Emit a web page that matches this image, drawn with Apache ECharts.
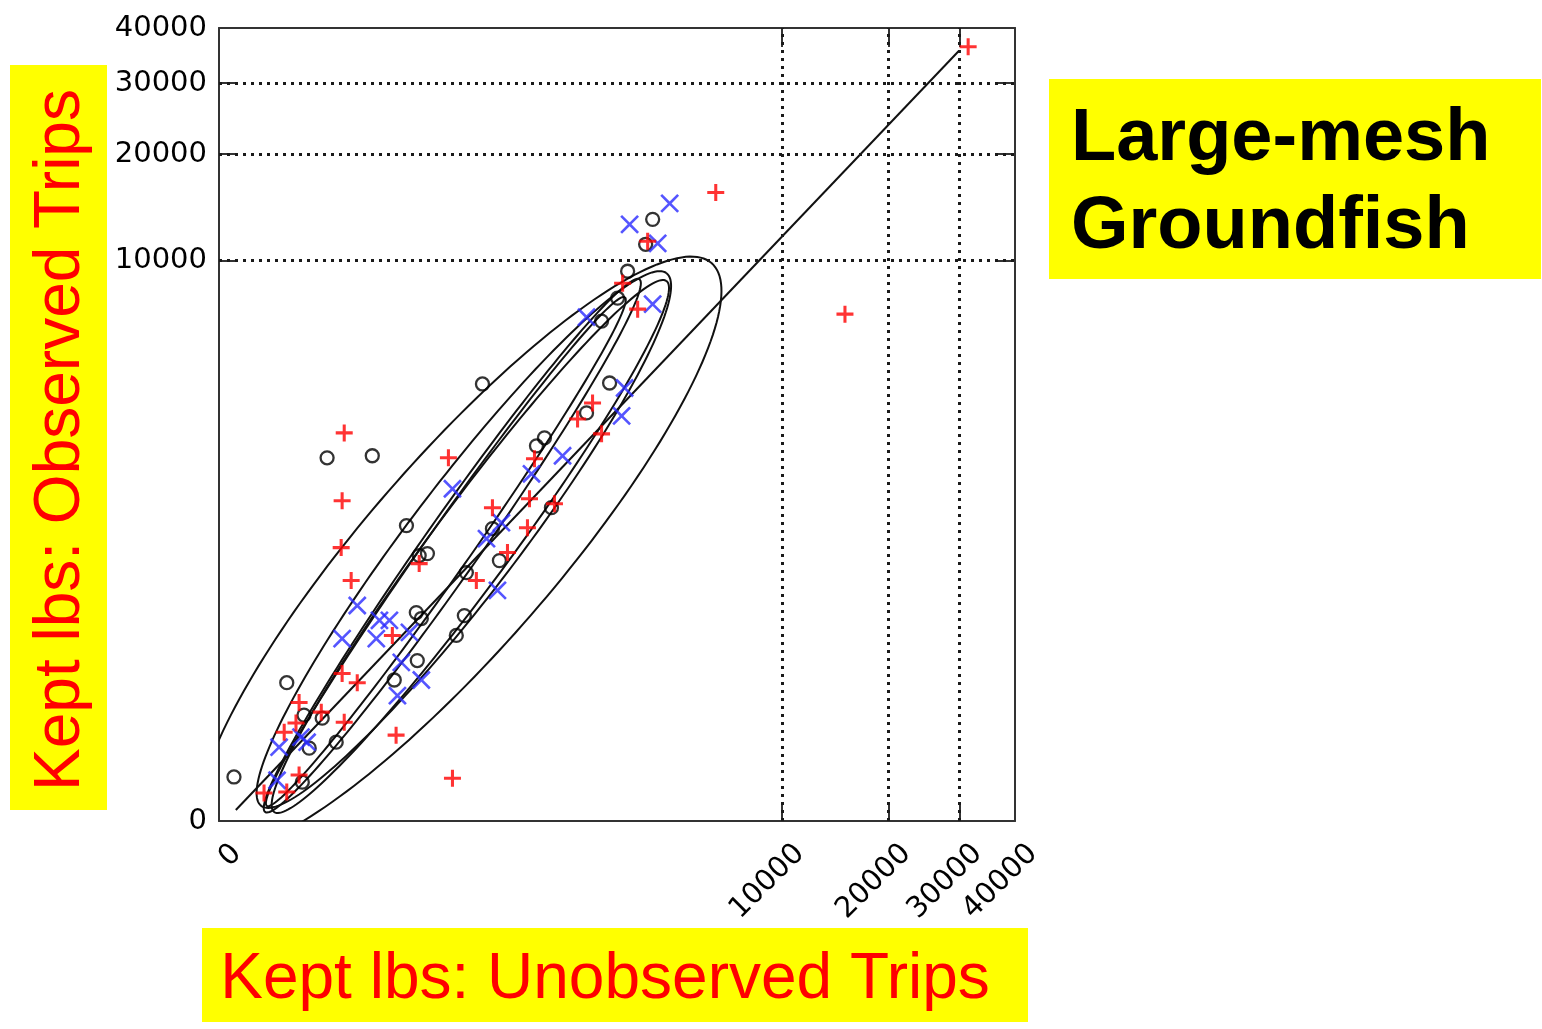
<!DOCTYPE html>
<html><head><meta charset="utf-8">
<script src="https://cdn.jsdelivr.net/npm/echarts@6/dist/echarts.min.js"></script>
<style>html,body{margin:0;padding:0;background:#fff}#c{width:1542px;height:1029px}</style>
</head><body><div id="c"></div>
<script>
// Axis tick labels (lbs) and dotted grid positions (lbs)
const tickValues = [0, 10000, 20000, 30000, 40000];
const gridValues = [10000, 20000, 30000];

// Points: [kept lbs on unobserved trips, kept lbs on observed trips]
const circles = [
  [0.005,0.38],[2.1,37],[5.2,12.7],[11.3,11.3],[6.6,2.85],[18.8,3.9],[4.8,0.23],
  [13.6,1760],[55,1800],[123,770],[160,502],[188,517],[94,40],[154,67],[151,191],
  [167,170],[316,120],[361,180],[373,385],[557,739],[616,465],[480,3690],[1012,2003],
  [1118,2180],[1217,975],[1818,2806],[2319,3723],[2134,6316],[2515,7558],[2778,9239],
  [3301,11190],[3524,13253]
];
const crosses = [
  [1.13,0.28],[1.3,3.0],[4.5,5.0],[6.0,3.9],[22.9,112],[36.4,218],[61,112],[66,164],
  [84,164],[131,128],[110,64],[167,40],[101,25],[296,1232],[510,643],[634,801],[599,286],
  [950,1470],[1388,1800],[1818,6520],[2618,2724],[2697,3556],[3524,7217],[3690,11262],
  [2832,12818],[4110,14716]
];
const pluses = [
  [0.41,0.062],[2.1,0.071],[4.1,0.45],[1.8,6.3],[3.5,9.3],[4.1,20],[10.9,14.2],[24.5,9.6],
  [22.9,48],[36.4,37],[30.4,338],[22.2,565],[22.9,1065],[24.5,2295],[90,120],[98,5.5],
  [160,444],[276,1760],[296,0.34],[437,338],[557,975],[690,525],[902,749],[926,1091],
  [987,1740],[1262,1025],[1647,2644],[1940,3090],[2134,2272],[2644,8462],[3061,6943],
  [3364,11422],[6067,15791],[15297,6676],[31383,36351]
];
// Fitted line end points (lbs)
const fitLine = [[0.008,0.0015],[29800,35500]];
// Confidence ellipses in fourth-root axis units: [x1, y1, x2, y2, halfWidth] (major-axis ends)
const ellipses = [
  [-0.20,-0.40, 8.75,9.95, 1.68],
  [0.75,0.27, 7.95,9.77, 0.97],
  [0.82,0.16, 7.47,9.66, 0.50],
  [0.98,0.16, 7.95,9.63, 0.70],
  [0.85,0.27, 7.21,9.34, 0.40]
];

const f = v => Math.pow(v, 0.25);          // fourth-root axis scale
const TMAX = f(40000);
const tr = arr => arr.map(p => [f(p[0]), f(p[1])]);
const fmt = v => String(Math.round(Math.pow(v, 4) / 100) * 100);
const PLUS = 'path://M41,0H59V41H100V59H59V100H41V59H0V41H41Z';
const XMARK = 'path://M44.5,0H55.5V44.5H100V55.5H55.5V100H44.5V55.5H0V44.5H44.5Z';

const labelFont = {fontFamily:'DejaVu Sans', fontSize:29, color:'#000'};
const tickStyle = {show:true, inside:true, length:19, customValues:gridValues.map(f), lineStyle:{color:'#333', width:2}};
const lineStyleAx = {show:true, onZero:false, lineStyle:{color:'#333', width:2}};
const chart = echarts.init(document.getElementById('c'), null, {renderer:'canvas'});
chart.setOption({
  animation:false,
  backgroundColor:'#fff',
  grid:{left:219, top:28, width:796, height:793, containLabel:false},
  xAxis:[
    {type:'value', min:0, max:TMAX, position:'bottom', axisLine:lineStyleAx, axisTick:tickStyle,
     axisLabel:Object.assign({customValues:tickValues.map(f), formatter:fmt, rotate:45, margin:10,
       align:'right', verticalAlign:'top', padding:[11,0,0,0]}, labelFont),
     splitLine:{show:false}},
    {type:'value', min:0, max:TMAX, position:'top', axisLine:lineStyleAx, axisTick:tickStyle,
     axisLabel:{show:false}, splitLine:{show:false}}
  ],
  yAxis:[
    {type:'value', min:0, max:TMAX, position:'left', axisLine:lineStyleAx, axisTick:tickStyle,
     axisLabel:Object.assign({customValues:tickValues.map(f), formatter:fmt, margin:12}, labelFont),
     splitLine:{show:false}},
    {type:'value', min:0, max:TMAX, position:'right', axisLine:lineStyleAx, axisTick:tickStyle,
     axisLabel:{show:false}, splitLine:{show:false}}
  ],
  series:[
    {type:'custom', name:'ellipses', clip:true, z:2, silent:true,
     data:ellipses,
     renderItem:function(params, api){
       const x1=api.value(0), y1=api.value(1), x2=api.value(2), y2=api.value(3), b=api.value(4);
       const cx=(x1+x2)/2, cy=(y1+y2)/2, a=Math.hypot(x2-x1,y2-y1)/2, ang=Math.atan2(y2-y1,x2-x1);
       const pts=[];
       for(let i=0;i<=200;i++){
         const th=i/200*Math.PI*2, u=a*Math.cos(th), v=b*Math.sin(th);
         pts.push(api.coord([cx+u*Math.cos(ang)-v*Math.sin(ang), cy+u*Math.sin(ang)+v*Math.cos(ang)]));
       }
       return {type:'polyline', shape:{points:pts}, style:{stroke:'#111', lineWidth:2, fill:null}};
     }},
    {type:'line', name:'fit', data:tr(fitLine), symbol:'none', z:3, silent:true,
     lineStyle:{color:'#111', width:2},
     markLine:{silent:true, symbol:'none', label:{show:false},
       lineStyle:{type:[3,5], width:3, color:'#1a1a1a'},
       data:gridValues.map(v=>({xAxis:f(v)})).concat(gridValues.map(v=>({yAxis:f(v)})))}},
    {type:'scatter', name:'o', data:tr(circles), symbol:'circle', symbolSize:13, z:5,
     itemStyle:{color:'rgba(0,0,0,0)', borderColor:'#000', borderWidth:2.3}},
    {type:'scatter', name:'x', data:tr(crosses), symbol:XMARK, symbolSize:24, symbolRotate:45, z:5,
     itemStyle:{color:'#2b2bff'}},
    {type:'scatter', name:'+', data:tr(pluses), symbol:PLUS, symbolSize:17, z:6,
     itemStyle:{color:'#ff0000'}}
  ],
  graphic:[
    {type:'rect', left:10, top:65, shape:{width:97, height:745}, style:{fill:'#ffff00'}, z:10},
    {type:'text', x:61, y:440, rotation:Math.PI/2, z:11,
     style:{text:'Kept lbs: Observed Trips', fill:'#ff0000', font:'64px "Liberation Sans", Arial, sans-serif', align:'center', verticalAlign:'middle'}},
    {type:'rect', left:202, top:928, shape:{width:826, height:94}, style:{fill:'#ffff00'}, z:10},
    {type:'text', x:605, y:980, z:11,
     style:{text:'Kept lbs: Unobserved Trips', fill:'#ff0000', font:'64px "Liberation Sans", Arial, sans-serif', align:'center', verticalAlign:'middle'}},
    {type:'rect', left:1049, top:79, shape:{width:492, height:200}, style:{fill:'#ffff00'}, z:10},
    {type:'text', x:1071, y:184, z:11,
     style:{text:'Large-mesh\nGroundfish', fill:'#000', font:'bold 74px "Liberation Sans", Arial, sans-serif', lineHeight:88, align:'left', verticalAlign:'middle'}}
  ]
});
</script></body></html>
